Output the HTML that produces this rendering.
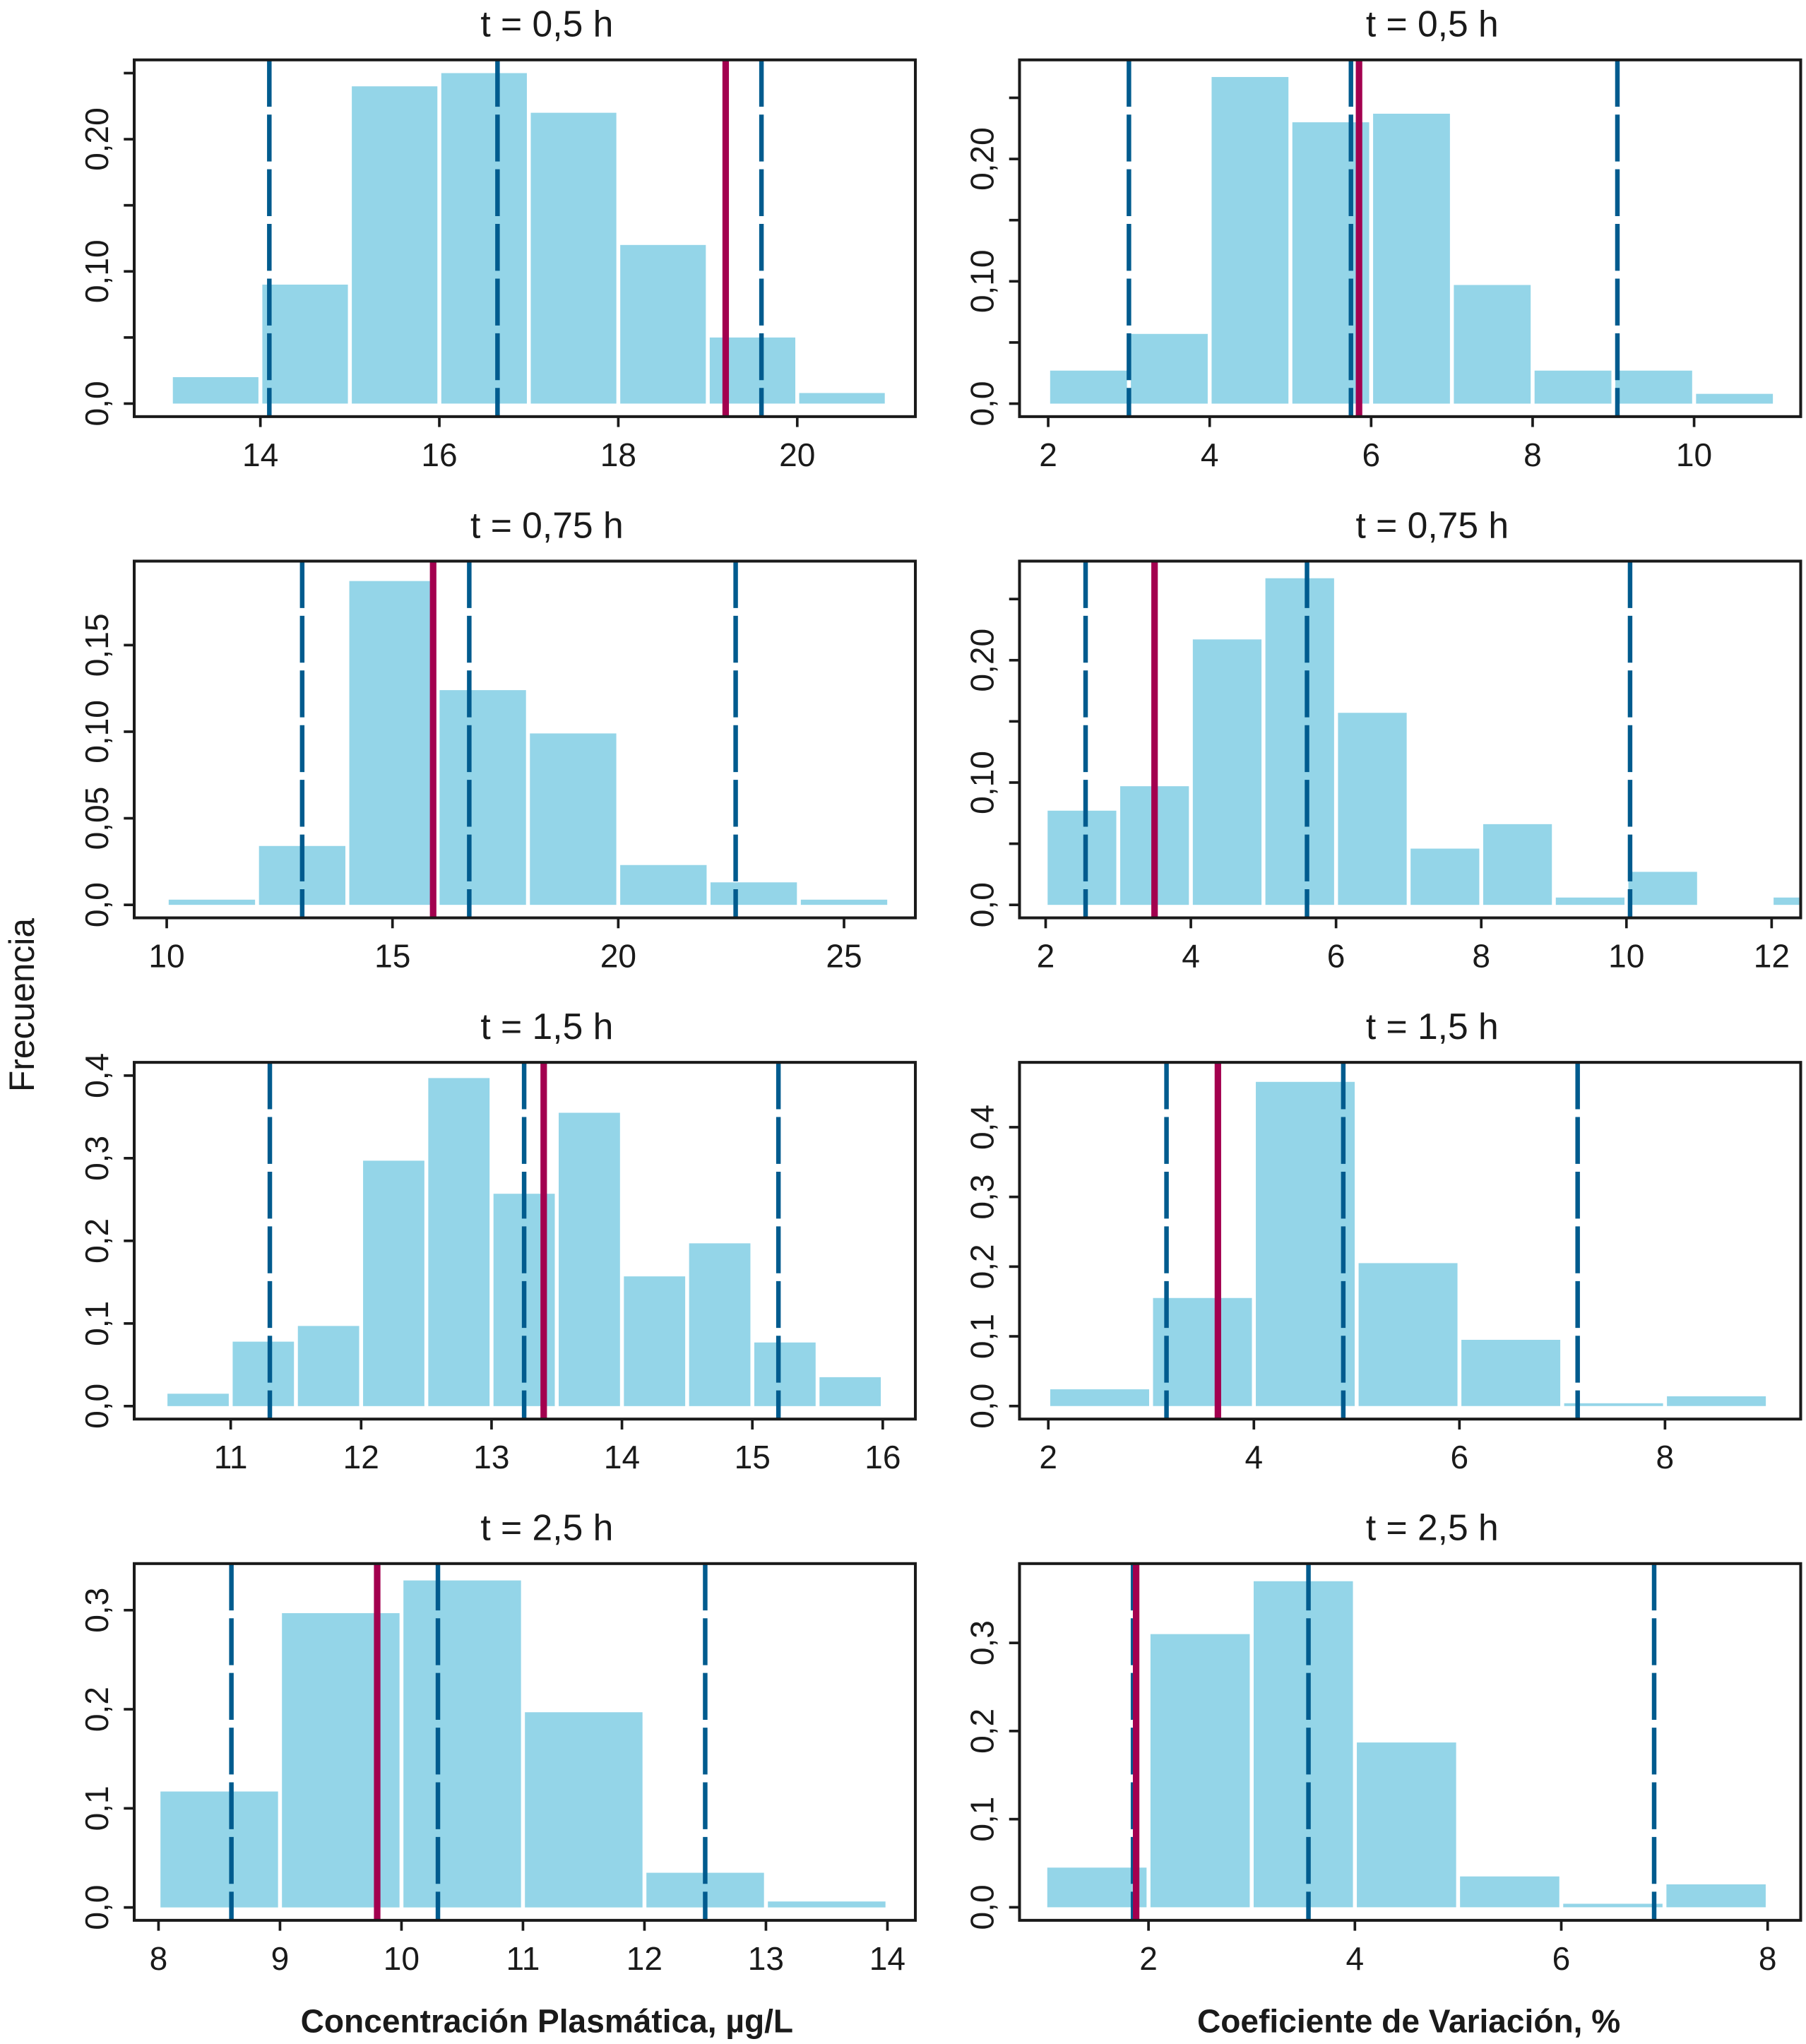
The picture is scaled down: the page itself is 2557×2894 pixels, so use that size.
<!DOCTYPE html>
<html><head><meta charset="utf-8"><style>
html,body{margin:0;padding:0;background:#fff;}
svg{display:block;}
text{font-family:"Liberation Sans",Arial,sans-serif;fill:#1a1a1a;}
</style></head><body>
<svg id="chart" width="2557" height="2894" viewBox="0 0 1387 1570" xmlns="http://www.w3.org/2000/svg">
<rect x="0" y="0" width="1387" height="1570" fill="#fff"/>
<text transform="translate(26,772) rotate(-90)" text-anchor="middle" font-size="27">Frecuencia</text>
<text x="420" y="1561" text-anchor="middle" font-size="25" font-weight="bold">Concentración Plasmática, µg/L</text>
<text x="1082" y="1561" text-anchor="middle" font-size="25" font-weight="bold">Coeficiente de Variación, %</text>
</svg>
<script>
// ---- data ----
const titles = ["t = 0,5 h","t = 0,5 h","t = 0,75 h","t = 0,75 h","t = 1,5 h","t = 1,5 h","t = 2,5 h","t = 2,5 h"];
const binStarts = [
  [13,14,15,16,17,18,19,20],
  [2,3,4,5,6,7,8,9,10],
  [10,12,14,16,18,20,22,24],
  [2,3,4,5,6,7,8,9,10,12],
  [10.5,11,11.5,12,12.5,13,13.5,14,14.5,15,15.5],
  [2,3,4,5,6,7,8],
  [8,9,10,11,12,13],
  [1,2,3,4,5,6,7]
];
const binWidths = [1,1,2,1,0.5,1,1,1];
const freqs = [
  [0.02,0.09,0.24,0.25,0.22,0.12,0.05,0.008],
  [0.027,0.057,0.267,0.23,0.237,0.097,0.027,0.027,0.008],
  [0.003,0.034,0.187,0.124,0.099,0.023,0.013,0.003],
  [0.077,0.097,0.217,0.267,0.157,0.046,0.066,0.006,0.027,0.006],
  [0.015,0.078,0.097,0.297,0.397,0.257,0.355,0.157,0.197,0.077,0.035],
  [0.024,0.155,0.465,0.205,0.095,0.004,0.014],
  [0.117,0.297,0.33,0.197,0.035,0.006],
  [0.045,0.31,0.37,0.187,0.035,0.004,0.026]
];
const dashedLines = [[14.1,16.65,19.6],[3.0,5.75,9.05],[13.0,16.7,22.6],[2.55,5.6,10.05],[11.3,13.25,15.2],[3.15,4.87,7.15],[8.6,10.3,12.5],[1.85,3.55,6.9]];
const redLines = [19.2,5.85,15.9,3.5,13.4,3.65,9.8,1.88];
const xTicks = [[14,16,18,20],[2,4,6,8,10],[10,15,20,25],[2,4,6,8,10,12],[11,12,13,14,15,16],[2,4,6,8],[8,9,10,11,12,13,14],[2,4,6,8]];
const yTicks = [
  [0,0.05,0.10,0.15,0.20,0.25],[0,0.05,0.10,0.15,0.20,0.25],[0,0.05,0.10,0.15],[0,0.05,0.10,0.15,0.20,0.25],
  [0,0.1,0.2,0.3,0.4],[0,0.1,0.2,0.3,0.4],[0,0.1,0.2,0.3],[0,0.1,0.2,0.3]
];
const yLabels = [
  ["0,0","","0,10","","0,20",""],["0,0","","0,10","","0,20",""],["0,0","0,05","0,10","0,15"],["0,0","","0,10","","0,20",""],
  ["0,0","0,1","0,2","0,3","0,4"],["0,0","0,1","0,2","0,3","0,4"],["0,0","0,1","0,2","0,3"],["0,0","0,1","0,2","0,3"]
];
const xDomains = [[12.59,21.32],[1.645,11.32],[9.28,26.58],[1.64,12.4],[10.26,16.25],[1.72,9.32],[7.8,14.23],[0.75,8.32]];
const yDomains = [[-0.00985,0.26],[-0.0106,0.281],[-0.0075,0.1985],[-0.0106,0.281],[-0.0157,0.416],[-0.0187,0.493],[-0.013,0.347],[-0.0148,0.39]];

// ---- drawing ----
const NS="http://www.w3.org/2000/svg";
const svg=document.getElementById('chart');
const colX=[103,783], rowY=[46,431,816,1201], W=600, H=274;
function mk(tag,attrs,parent){const e=document.createElementNS(NS,tag);for(const k in attrs)e.setAttribute(k,attrs[k]);parent.appendChild(e);return e;}
for(let p=0;p<8;p++){
  const bx=colX[p%2], by=rowY[Math.floor(p/2)];
  const g=mk('g',{},svg);
  
  
  const xs=v=>bx+(v-xDomains[p][0])/(xDomains[p][1]-xDomains[p][0])*W;
  const ys=v=>by+H-(v-yDomains[p][0])/(yDomains[p][1]-yDomains[p][0])*H;
  const clipId='clip'+p;
  const cp=mk('clipPath',{id:clipId},g); mk('rect',{x:bx,y:by,width:W,height:H},cp);
  const inner=mk('g',{'clip-path':'url(#'+clipId+')'},g);
  binStarts[p].forEach((s,i)=>{
    const x0=xs(s), x1=xs(s+binWidths[p]);
    const r=mk('rect',{x:x0+1.5,y:ys(freqs[p][i]),width:Math.max(0,x1-x0-3),height:ys(0)-ys(freqs[p][i]),fill:'#94d5e8'},inner);
    
    
  });
  dashedLines[p].forEach(v=>{
    const l=mk('line',{x1:xs(v),x2:xs(v),y1:by,y2:by+H,stroke:'#005b8e','stroke-width':3.5,'stroke-dasharray':'36 6'},inner);
    
    
  });
  const rl=mk('line',{x1:xs(redLines[p]),x2:xs(redLines[p]),y1:by,y2:by+H,stroke:'#a3004f','stroke-width':5},inner);
  
  
  const box=mk('rect',{x:bx,y:by,width:W,height:H,fill:'none',stroke:'#1a1a1a','stroke-width':2.2},g);
  
  
  xTicks[p].forEach(v=>{
    mk('line',{x1:xs(v),x2:xs(v),y1:by+H,y2:by+H+8,stroke:'#1a1a1a','stroke-width':2},g);
    const t=mk('text',{x:xs(v),y:by+H+38,'text-anchor':'middle','font-size':25},g);
    t.textContent=v;
    
    
  });
  yTicks[p].forEach((v,i)=>{
    mk('line',{x1:bx-8,x2:bx,y1:ys(v),y2:ys(v),stroke:'#1a1a1a','stroke-width':2},g);
    if(yLabels[p][i]){
      const t=mk('text',{transform:'translate('+(bx-20)+','+ys(v)+') rotate(-90)','text-anchor':'middle','font-size':25},g);
      t.textContent=yLabels[p][i];
      
      
    }
  });
  const tt=mk('text',{x:bx+W/2+17,y:by-18,'text-anchor':'middle','font-size':28},g);
  tt.textContent=titles[p];
  
  
}
</script>
</body></html>
